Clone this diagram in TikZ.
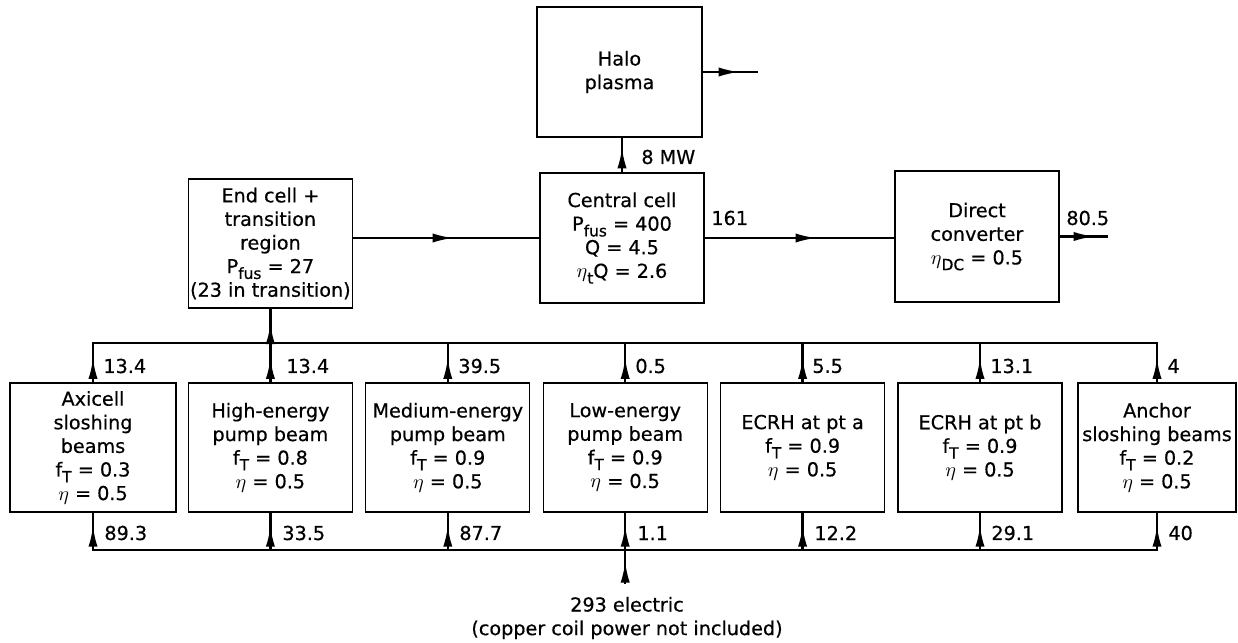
\documentclass[tikz,border=0pt]{standalone}
\usepackage{fontspec}
\setmainfont{DejaVu Sans}[FakeBold=0.5]
\usetikzlibrary{arrows.meta,decorations.markings}
\newcommand{\sbx}[1]{\raisebox{-0.55ex}{\fontsize{7.7pt}{8pt}\selectfont #1}}
\begin{document}
\begin{tikzpicture}[x=0.5pt,y=-0.5pt,
  box/.style={draw,line width=0.65pt,inner sep=0pt,align=center,minimum width=82pt,minimum height=64.5pt,font=\fontsize{9.6pt}{11.8pt}\selectfont},
  lbl/.style={anchor=west,inner sep=0pt,font=\fontsize{9.6pt}{11.8pt}\selectfont},
  conn/.style={line width=1.2pt,line cap=rect},
  midarr/.style={postaction={decorate,decoration={markings,mark=at position #1 with {\arrow{Latex[length=10.5pt,width=4.6pt]}}}}}
]
\useasboundingbox (0,0) rectangle (1238,643);

% upper boxes
\node[box,minimum width=82.5pt,minimum height=65pt] (halo) at (619.5,72) {Halo\\plasma};
\node[box,minimum height=65pt] (cc) at (622,238) {Central cell\\P\sbx{fus} = 400\\Q = 4.5\\$\eta$\sbx{t}Q = 2.6};
\node[box] (ec) at (270.4,243.5) {End cell +\\transition\\region\\P\sbx{fus} = 27\\(23 in transition)};
\node[box,minimum height=65.5pt] (dc) at (977,236.5) {Direct\\converter\\$\eta$\sbx{DC} = 0.5};

% lower boxes
\node[box,minimum width=83pt] (ax) at (93,447.5) {Axicell\\sloshing\\beams\\f\sbx{T} = 0.3\\$\eta$ = 0.5};
\node[box] (he) at (270.4,447.5) {High-energy\\pump beam\\f\sbx{T} = 0.8\\$\eta$ = 0.5};
\node[box] (me) at (447.8,447.5) {Medium-energy\\pump beam\\f\sbx{T} = 0.9\\$\eta$ = 0.5};
\node[box] (le) at (625.2,447.5) {Low-energy\\pump beam\\f\sbx{T} = 0.9\\$\eta$ = 0.5};
\node[box] (ea) at (802.6,447.5) {ECRH at pt a\\f\sbx{T} = 0.9\\$\eta$ = 0.5};
\node[box] (eb) at (980,447.5) {ECRH at pt b\\f\sbx{T} = 0.9\\$\eta$ = 0.5};
\node[box,minimum width=79pt] (an) at (1157,447.5) {Anchor\\sloshing beams\\f\sbx{T} = 0.2\\$\eta$ = 0.5};

% coordinates
\coordinate (tb) at (0,343);
\coordinate (bb) at (0,550);
\coordinate (hout) at (757,72);
\coordinate (dcout) at (1107,236.5);
\coordinate (elin) at (625.2,583);

% connectors
\draw[conn,midarr=0.68] (halo.east) -- (hout);
\draw[conn,midarr=0.72] (cc.north) -- (cc.north |- halo.south);
\draw[conn,midarr=0.54] (cc.west -| ec.east) -- (cc.west);
\draw[conn,midarr=0.59] (cc.east) -- (cc.east -| dc.west);
\draw[conn,midarr=0.74] (dc.east) -- (dcout);
\draw[conn,midarr=0.58] (ec.south |- tb) -- (ec.south);
\draw[conn] (ax.north |- tb) -- (an.north |- tb);
\draw[conn] (ax.south |- bb) -- (an.south |- bb);
\foreach \n in {ax,he,me,le,ea,eb,an} {
  \draw[conn,midarr=0.62] (\n.north) -- (\n.north |- tb);
  \draw[conn,midarr=0.65] (\n.south |- bb) -- (\n.south);
}
\draw[conn,midarr=0.65] (elin) -- (elin |- bb);

% labels
\node[lbl] (m8) at (641,157) {8 MW};
\node[lbl] (m161) at (711,218) {161};
\node[lbl] (m805) at (1066,218) {80.5};

\node[lbl] (tax) at (103,366) {13.4};
\node[lbl] (the) at (286,366) {13.4};
\node[lbl] (tme) at (458,366) {39.5};
\node[lbl] (tle) at (635,366) {0.5};
\node[lbl] (tea) at (812,366) {5.5};
\node[lbl] (teb) at (990,366) {13.1};
\node[lbl] (tan) at (1167,366) {4};

\node[lbl] (bax) at (104,533) {89.3};
\node[lbl] (bhe) at (282,533) {33.5};
\node[lbl] (bme) at (459,533) {87.7};
\node[lbl] (ble) at (637,533) {1.1};
\node[lbl] (bea) at (814,533) {12.2};
\node[lbl] (beb) at (991,533) {29.1};
\node[lbl] (ban) at (1168,533) {40};

\node[inner sep=0pt,align=center,font=\fontsize{9.6pt}{11.8pt}\selectfont] (elec) at (627,618) {293 electric\\(copper coil power not included)};
\end{tikzpicture}
\end{document}
